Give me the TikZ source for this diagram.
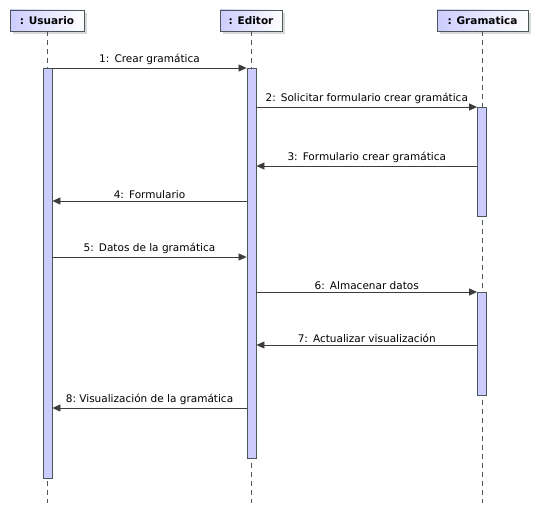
\documentclass[tikz,border=0pt]{standalone}
\usepackage{fontspec}
\setmainfont{DejaVu Sans}
\usetikzlibrary{arrows.meta,shadows}
\definecolor{barfill}{RGB}{204,204,255}
\definecolor{barline}{RGB}{74,88,92}
\definecolor{msgline}{RGB}{60,60,60}

\begin{document}
\begin{tikzpicture}[x=1pt,y=-1pt,
        actor/.style={draw=barline, line width=0.9pt, left color=barfill, right color=white,
                minimum height=21pt, inner sep=0pt, font=\fontsize{10.5}{12}\selectfont\bfseries,
                drop shadow={shadow xshift=3pt, shadow yshift=-3pt, fill=black!25, opacity=0.6}},
        activation/.style={draw=barline, line width=0.8pt, fill=barfill, minimum width=9pt, inner sep=0pt},
        lifeline/.style={draw=barline, line width=0.7pt, dash pattern=on 5pt off 4pt},
        msg/.style={draw=msgline, line width=0.7pt, -{Triangle[length=8pt,width=7pt]}},
        lbl/.style={above, inner sep=2.5pt, font=\fontsize{10.5}{12}\selectfont}]
        \useasboundingbox (0,0) rectangle (537,513);

        % participants
        \node (usr) [actor, minimum width=74pt] at (47,20.5) {: Usuario};
        \node (edt) [actor, minimum width=62pt] at (251,20.5) {: Editor};
        \node (gram) [actor, minimum width=91pt] at (482.5,20.5) {: Gramatica};

        \coordinate (usrend) at (47,503);
        \coordinate (edtend) at (251,503);
        \coordinate (gramend) at (482,503);
        \draw [lifeline] (usr.south) -- (usrend);
        \draw [lifeline] (edt.south) -- (edtend);
        \draw [lifeline] (gram.south -| gramend) -- (gramend);

        % activations
        \node (usrbar) [activation, minimum height=410pt] at (47.5,273) {};
        \node (edtbar) [activation, minimum height=390pt] at (251.5,263) {};
        \node (grambarA) [activation, minimum height=109pt] at (482,161.5) {};
        \node (grambarB) [activation, minimum height=103pt] at (482,343.5) {};

        % messages
        \foreach \y [count=\i] in {68,107,166,201,257,292,345,408}
                \coordinate (m\i) at (0,\y);

        \draw [msg] (usrbar.east |- m1) -- node [lbl] {1:\ \,Crear gramática} (edtbar.west |- m1);
        \draw [msg] (edtbar.east |- m2) -- node [lbl] {2:\ \,Solicitar formulario crear gramática} (grambarA.west |- m2);
        \draw [msg] (grambarA.west |- m3) -- node [lbl] {3:\ \,Formulario crear gramática} (edtbar.east |- m3);
        \draw [msg] (edtbar.west |- m4) -- node [lbl] {4:\ \,Formulario} (usrbar.east |- m4);
        \draw [msg] (usrbar.east |- m5) -- node [lbl] {5:\ \,Datos de la gramática} (edtbar.west |- m5);
        \draw [msg] (edtbar.east |- m6) -- node [lbl] {6:\ \,Almacenar datos} (grambarB.west |- m6);
        \draw [msg] (grambarB.west |- m7) -- node [lbl] {7:\ \,Actualizar visualización} (edtbar.east |- m7);
        \draw [msg] (edtbar.west |- m8) -- node [lbl] {8:\ Visualización de la gramática} (usrbar.east |- m8);
    \end{tikzpicture}
\end{document}
